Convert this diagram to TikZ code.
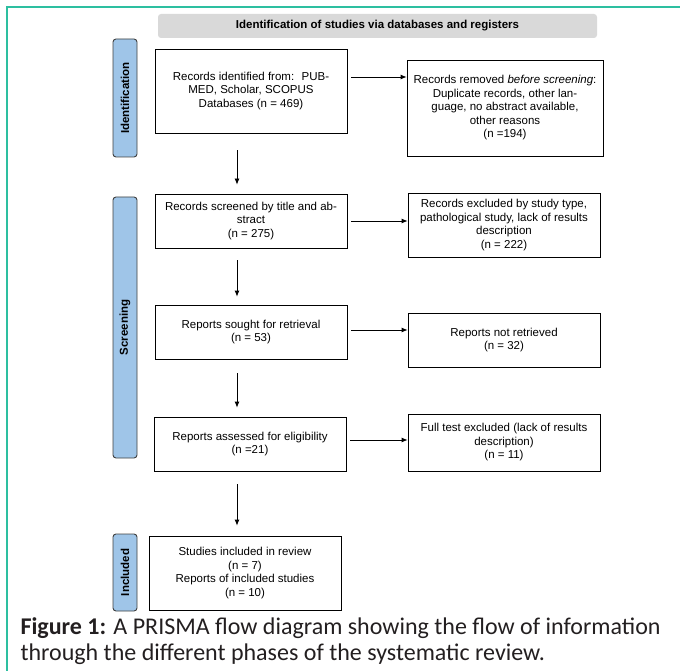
\documentclass[tikz,border=0pt]{standalone}
\usepackage{fontspec}
\setmainfont{Liberation Sans}
\newfontfamily\capfont{Carlito}
\usetikzlibrary{arrows.meta}
\definecolor{framecol}{HTML}{2DBFA0}
\definecolor{sidefill}{HTML}{9FC5E8}
\definecolor{headfill}{HTML}{D9D9D9}
\definecolor{captext}{HTML}{231F20}

\begin{document}
\begin{tikzpicture}[x=1pt, y=-1pt,
 box/.style={draw, line width=.8pt, align=center, inner sep=2pt, minimum width=192pt, font=\fontsize{11.5}{13.5}\selectfont},
 side/.style={draw=black!75, fill=sidefill, rounded corners=3pt, line width=.9pt, rotate=90, minimum height=24pt, font=\bfseries\fontsize{11.5}{12}\selectfont},
 link/.style={line width=.8pt, -{Latex[length=6pt, width=5pt]}}]
\useasboundingbox (0,0) rectangle (680,671);
\draw[framecol, line width=1.2pt] (680,7) -- (7,7) -- (7,671);
\node[fill=headfill, rounded corners=3pt, minimum width=439pt, minimum height=24pt, font=\bfseries\fontsize{11.5}{12}\selectfont] (head) at (377.5,26) {Identification of studies via databases and registers};
\node[side, minimum width=118pt] (ident) at (125,98) {Identification};
\node[side, minimum width=261pt] (screen) at (125,327.5) {Screening};
\node[side, minimum width=77pt] (incl) at (125,572.5) {Included};
\node[box, minimum height=84pt] (found) at (251,91) {Records identified from:~ PUB-\\MED, Scholar, SCOPUS\\Databases (n = 469)};
\node[box, minimum width=196pt, minimum height=96pt] (removed) at (505,108) {Records removed \textit{before screening}:\\Duplicate records, other lan-\\guage, no abstract available,\\other reasons\\(n =194)};
\node[box, minimum height=54pt] (screened) at (251,221) {Records screened by title and ab-\\stract\\(n = 275)};
\node[box, minimum height=64pt] (excluded) at (504,225) {Records excluded by study type,\\pathological study, lack of results\\description\\(n = 222)};
\node[box, minimum height=54pt] (sought) at (251,332) {Reports sought for retrieval\\(n = 53)};
\node[box, minimum height=54pt] (notret) at (504,340) {Reports not retrieved\\(n = 32)};
\node[box, minimum height=54pt] (assessed) at (250,444) {Reports assessed for eligibility\\(n =21)};
\node[box, minimum height=57pt] (fulltext) at (504,442.5) {Full test excluded (lack of results\\description)\\(n = 11)};
\node[box, minimum height=74pt] (included) at (245,573) {Studies included in review\\(n = 7)\\Reports of included studies\\(n = 10)};
\draw[link] ([xshift=4pt,yshift=14pt]found.east) -- ([yshift=14pt]found.east -| removed.west);
\draw[link] ([xshift=4pt]screened.east) -- (screened.east -| excluded.west);
\draw[link] ([xshift=4pt,yshift=2pt]sought.east) -- ([yshift=2pt]sought.east -| notret.west);
\draw[link] ([xshift=4pt,yshift=4pt]assessed.east) -- ([yshift=4pt]assessed.east -| fulltext.west);
\draw[link] ([xshift=-14pt,yshift=-17pt]found.south) -- ([xshift=-14pt,yshift=9pt]found.south |- screened.north);
\draw[link] ([xshift=-14pt,yshift=-12pt]screened.south) -- ([xshift=-14pt,yshift=8pt]screened.south |- sought.north);
\draw[link] ([xshift=-14pt,yshift=-14pt]sought.south) -- ([xshift=-14pt,yshift=9pt]sought.south |- assessed.north);
\draw[link] ([xshift=-13pt,yshift=-13pt]assessed.south) -- ([xshift=-13pt,yshift=10pt]assessed.south |- included.north);
\node[anchor=base west, align=left, text=captext, font=\capfont\fontsize{24}{25.5}\selectfont] (caption) at (17,660) {\textbf{Figure 1:} A PRISMA flow diagram showing the flow of information\\through the different phases of the systematic review.};
\end{tikzpicture}
\end{document}
